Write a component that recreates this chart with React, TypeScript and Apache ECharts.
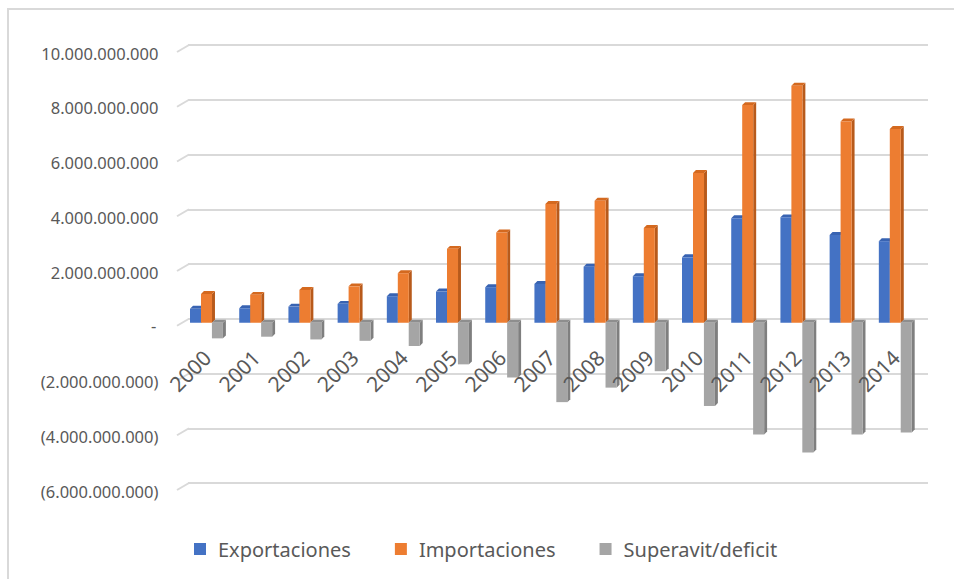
import React, { useEffect, useRef } from "react";
import * as echarts from "echarts";

const years = ["2000", "2001", "2002", "2003", "2004", "2005", "2006", "2007", "2008", "2009", "2010", "2011", "2012", "2013", "2014"];
const exportaciones = [0.51e9, 0.53e9, 0.59e9, 0.69e9, 0.97e9, 1.14e9, 1.3e9, 1.42e9, 2.05e9, 1.7e9, 2.39e9, 3.82e9, 3.85e9, 3.21e9, 2.98e9];
const importaciones = [1.05e9, 1.02e9, 1.2e9, 1.33e9, 1.81e9, 2.7e9, 3.3e9, 4.34e9, 4.46e9, 3.46e9, 5.47e9, 7.95e9, 8.66e9, 7.35e9, 7.08e9];
const superavit = [-0.57e9, -0.51e9, -0.61e9, -0.66e9, -0.85e9, -1.52e9, -2.0e9, -2.9e9, -2.37e9, -1.77e9, -3.04e9, -4.08e9, -4.74e9, -4.08e9, -4.01e9];
const seriesNames = ["Exportaciones", "Importaciones", "Superavit/deficit"];
const yTicks = [-6e9, -4e9, -2e9, 0, 2e9, 4e9, 6e9, 8e9, 10e9];

const FONT = "'Noto Sans', sans-serif";
const TEXT = "#595959";
const GRIDC = "#d9d9d9";

const fmtNum = (v: number) => String(Math.round(v)).replace(/\B(?=(\d{3})+(?!\d))/g, ".");
const fmtAxis = (v: number) => {
  if (v === 0) return "{z|-}";
  if (v < 0) return "{a|(" + fmtNum(-v) + ")}";
  return "{a|" + fmtNum(v) + "}";
};

const OFFSETS = [-0.345, -0.122, 0.1];
const palettes = [
  { front: "#4472C4", side: "#2F5597", top: "#3863B2" },
  { front: "#ED7D31", side: "#B85A1B", top: "#D4691F" },
  { front: "#A5A5A5", side: "#7F7F7F", top: "#8E8E8E" },
];

function makeRender(idx: number) {
  const pal = palettes[idx];
  return (params: any, api: any) => {
    const cat = api.value(0);
    const val = api.value(1);
    const base = api.coord([cat, 0]);
    const end = api.coord([cat, val]);
    const band = api.size([1, 0])[0];
    const w = band * 0.224;
    const d = band * 0.06;
    const x0 = base[0] + band * OFFSETS[idx];
    const x1 = x0 + w;
    const yT = Math.min(base[1], end[1]);
    const yB = Math.max(base[1], end[1]);
    return {
      type: "group",
      children: [
        {
          type: "polygon",
          shape: { points: [[x1, yT], [x1 + d, yT - d], [x1 + d, yB - d], [x1, yB]] },
          style: { fill: pal.side },
        },
        {
          type: "polygon",
          shape: { points: [[x0, yT], [x0 + d, yT - d], [x1 + d, yT - d], [x1, yT]] },
          style: { fill: pal.top },
        },
        {
          type: "rect",
          shape: { x: x0, y: yT, width: w, height: yB - yT },
          style: { fill: pal.front },
        },
      ],
    };
  };
}

// front grid: y from -6e9 (bottom) to 10e9 (top); label grid ends at the zero line
const FRONT_TOP = 49;
const FRONT_H = 438;
const ZERO_FRAC = 10 / 16;

export default function App() {
  const ref = useRef<HTMLDivElement>(null);
  useEffect(() => {
    if (!ref.current) return;
    const chart = echarts.init(ref.current, null, { renderer: "svg" });
    const dataSets = [exportaciones, importaciones, superavit];
    chart.setOption({
      animation: false,
      grid: [
        { left: 188, top: 45, width: 740, height: 438 },
        { left: 182.4, top: FRONT_TOP, width: 738, height: FRONT_H },
        { left: 182.4, top: FRONT_TOP, width: 738, height: FRONT_H * ZERO_FRAC },
      ],
      xAxis: [
        { type: "category", gridIndex: 0, data: years, show: false },
        { type: "category", gridIndex: 1, data: years, show: false },
        {
          type: "category",
          gridIndex: 2,
          data: years,
          position: "bottom",
          z: 10,
          axisLine: { show: false, onZero: false },
          axisTick: { show: false },
          axisLabel: { rotate: 45, margin: 31, fontSize: 21, color: TEXT, fontFamily: FONT },
        },
      ],
      yAxis: [
        {
          type: "value",
          gridIndex: 0,
          min: -6e9,
          max: 10e9,
          interval: 2e9,
          axisLabel: { show: false },
          axisLine: { show: false },
          axisTick: { show: false },
          splitLine: { show: true, lineStyle: { color: GRIDC, width: 2 } },
        },
        {
          type: "value",
          gridIndex: 1,
          min: -6e9,
          max: 10e9,
          interval: 2e9,
          axisLine: { show: false },
          axisTick: { show: false },
          splitLine: { show: false },
          axisLabel: {
            margin: 24,
            formatter: fmtAxis,
            rich: {
              a: { fontSize: 16.5, color: TEXT, fontFamily: FONT, padding: [8, 0, 0, 0] },
              z: { fontSize: 16.5, color: TEXT, fontFamily: FONT, padding: [6, 2, 0, 0] },
            },
          },
        },
        { type: "value", gridIndex: 2, min: 0, max: 10e9, show: false },
      ],
      legend: {
        data: seriesNames,
        icon: "rect",
        itemWidth: 12,
        itemHeight: 12,
        left: 189,
        top: 534,
        itemGap: 44,
        textStyle: { fontSize: 20, color: TEXT, fontFamily: FONT, padding: [0, 0, 0, 7] },
      },
      series: seriesNames.map((name, i) => ({
        type: "custom",
        name,
        xAxisIndex: 1,
        yAxisIndex: 1,
        clip: false,
        itemStyle: { color: palettes[i].front },
        encode: { x: 0, y: 1 },
        data: dataSets[i].map((v, j) => [j, v]),
        renderItem: makeRender(i),
      })),
    });
    const slants = yTicks.map((v) => {
      const yA = chart.convertToPixel({ yAxisIndex: 0 }, v) as number;
      return {
        type: "line",
        shape: { x1: 177, y1: yA + 7, x2: 189, y2: yA },
        style: { stroke: GRIDC, lineWidth: 2 },
        z: 1,
      };
    });
    chart.setOption({ graphic: { elements: slants } });
    return () => chart.dispose();
  }, []);
  return (
    <>
      <div
        style={{
          position: "absolute",
          left: 7,
          top: 8,
          width: 947,
          height: 571,
          boxSizing: "border-box",
          borderTop: "2px solid #d9d9d9",
          borderLeft: "2px solid #d9d9d9",
        }}
      />
      <div ref={ref} style={{ position: "absolute", left: 0, top: 0, width: 954, height: 579 }} />
    </>
  );
}
